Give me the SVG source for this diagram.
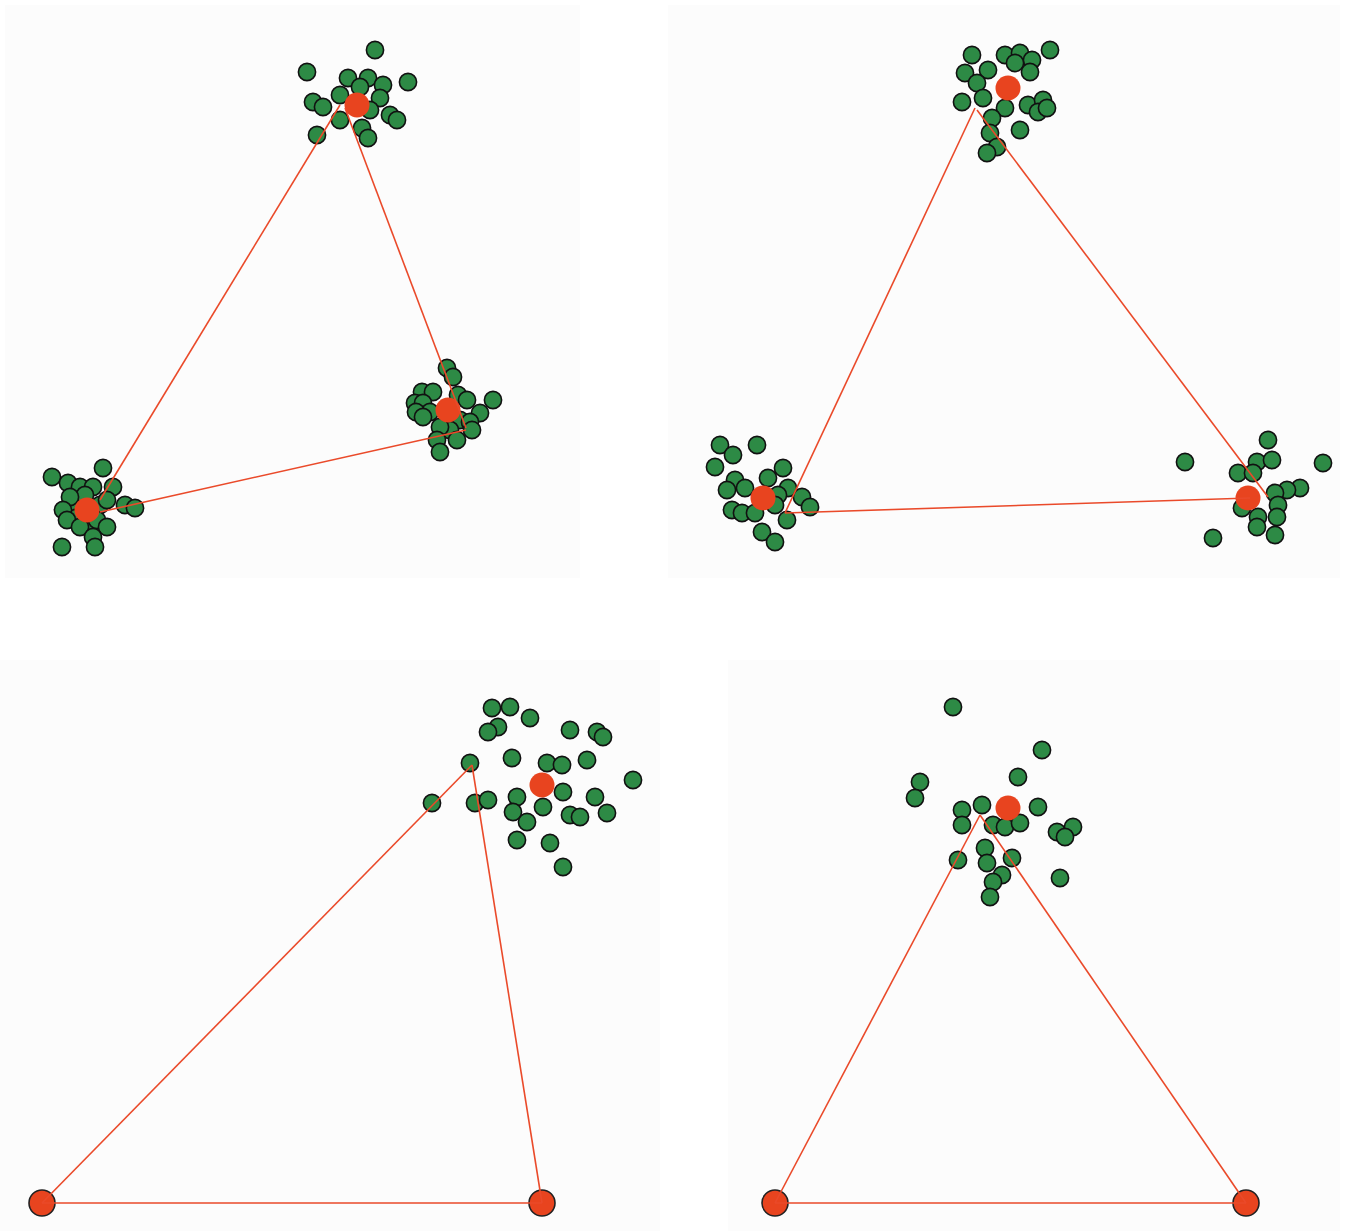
<svg xmlns="http://www.w3.org/2000/svg" width="1358" height="1231" viewBox="0 0 1358 1231">
<style>
.bg{fill:#fcfcfc}
.g{fill:#2d8a45;stroke:#111;stroke-width:1.6}
.c{fill:#e8441f;stroke:none}
.cb{fill:#e8441f;stroke:#222;stroke-width:1.6}
.ln{stroke:#ea4a2a;stroke-width:1.6;fill:none}
</style>
<defs>
<circle id="d" r="8.6" class="g"/>
</defs>
<rect width="1358" height="1231" fill="#ffffff"/>
<g id="panels">
<rect class="bg" x="5" y="5" width="575" height="573"/>
<rect class="bg" x="668" y="5" width="672" height="573"/>
<rect class="bg" x="0" y="660" width="660" height="571"/>
<rect class="bg" x="728" y="660" width="612" height="571"/>
</g>
<g id="cluster-p1-top">
<use href="#d" x="375" y="50"/><use href="#d" x="307" y="72"/><use href="#d" x="408" y="82"/>
<use href="#d" x="348" y="78"/><use href="#d" x="368" y="78"/><use href="#d" x="383" y="85"/>
<use href="#d" x="360" y="87"/><use href="#d" x="313" y="102"/><use href="#d" x="323" y="107"/>
<use href="#d" x="340" y="95"/><use href="#d" x="380" y="98"/><use href="#d" x="390" y="115"/>
<use href="#d" x="397" y="120"/><use href="#d" x="370" y="110"/><use href="#d" x="340" y="120"/>
<use href="#d" x="362" y="128"/><use href="#d" x="368" y="138"/><use href="#d" x="317" y="135"/>
<circle class="c" cx="357" cy="105" r="12.5"/>
</g>
<g id="cluster-p1-right">
<use href="#d" x="447" y="368"/><use href="#d" x="453" y="377"/><use href="#d" x="422" y="392"/>
<use href="#d" x="433" y="392"/><use href="#d" x="415" y="403"/><use href="#d" x="423" y="403"/>
<use href="#d" x="458" y="395"/><use href="#d" x="430" y="412"/><use href="#d" x="460" y="420"/>
<use href="#d" x="450" y="430"/><use href="#d" x="416" y="412"/>
<use href="#d" x="467" y="400"/><use href="#d" x="493" y="400"/><use href="#d" x="480" y="413"/>
<use href="#d" x="423" y="417"/><use href="#d" x="440" y="427"/><use href="#d" x="470" y="422"/>
<use href="#d" x="457" y="440"/><use href="#d" x="437" y="440"/><use href="#d" x="440" y="452"/>
<use href="#d" x="472" y="430"/>
<circle class="c" cx="448" cy="410" r="12.5"/>
</g>
<g id="cluster-p1-left">
<use href="#d" x="103" y="468"/><use href="#d" x="52" y="477"/><use href="#d" x="68" y="483"/>
<use href="#d" x="80" y="487"/><use href="#d" x="93" y="487"/><use href="#d" x="113" y="487"/>
<use href="#d" x="75" y="505"/><use href="#d" x="100" y="505"/><use href="#d" x="85" y="495"/>
<use href="#d" x="76" y="518"/><use href="#d" x="88" y="527"/>
<use href="#d" x="70" y="497"/><use href="#d" x="107" y="500"/><use href="#d" x="125" y="505"/>
<use href="#d" x="135" y="508"/><use href="#d" x="63" y="510"/><use href="#d" x="67" y="520"/>
<use href="#d" x="97" y="520"/><use href="#d" x="107" y="527"/><use href="#d" x="80" y="527"/>
<use href="#d" x="93" y="537"/><use href="#d" x="95" y="547"/><use href="#d" x="62" y="547"/>
<circle class="c" cx="87" cy="510" r="12.5"/>
</g>
<g id="cluster-p2-top">
<use href="#d" x="972" y="55"/><use href="#d" x="1005" y="55"/><use href="#d" x="1020" y="53"/>
<use href="#d" x="1050" y="50"/><use href="#d" x="1032" y="60"/><use href="#d" x="1015" y="63"/>
<use href="#d" x="965" y="73"/><use href="#d" x="988" y="70"/><use href="#d" x="977" y="83"/>
<use href="#d" x="1030" y="72"/><use href="#d" x="962" y="102"/><use href="#d" x="983" y="98"/>
<use href="#d" x="1005" y="108"/><use href="#d" x="1028" y="105"/><use href="#d" x="1043" y="100"/>
<use href="#d" x="1038" y="112"/><use href="#d" x="1047" y="108"/><use href="#d" x="992" y="118"/>
<use href="#d" x="1020" y="130"/><use href="#d" x="990" y="133"/><use href="#d" x="997" y="147"/>
<use href="#d" x="987" y="153"/>
<circle class="c" cx="1008" cy="88" r="12.5"/>
</g>
<g id="cluster-p2-left">
<use href="#d" x="720" y="445"/><use href="#d" x="757" y="445"/><use href="#d" x="733" y="455"/>
<use href="#d" x="715" y="467"/><use href="#d" x="783" y="468"/><use href="#d" x="735" y="480"/>
<use href="#d" x="768" y="478"/><use href="#d" x="727" y="490"/><use href="#d" x="745" y="488"/>
<use href="#d" x="788" y="488"/><use href="#d" x="778" y="495"/><use href="#d" x="802" y="497"/>
<use href="#d" x="732" y="510"/><use href="#d" x="742" y="513"/><use href="#d" x="755" y="513"/>
<use href="#d" x="775" y="505"/><use href="#d" x="810" y="507"/><use href="#d" x="787" y="520"/>
<use href="#d" x="762" y="532"/><use href="#d" x="775" y="542"/>
<circle class="c" cx="763" cy="498" r="12.5"/>
</g>
<g id="cluster-p2-right">
<use href="#d" x="1268" y="440"/><use href="#d" x="1185" y="462"/><use href="#d" x="1323" y="463"/>
<use href="#d" x="1257" y="462"/><use href="#d" x="1272" y="460"/><use href="#d" x="1238" y="473"/>
<use href="#d" x="1253" y="473"/><use href="#d" x="1300" y="488"/><use href="#d" x="1287" y="490"/>
<use href="#d" x="1275" y="493"/><use href="#d" x="1278" y="505"/><use href="#d" x="1242" y="508"/>
<use href="#d" x="1258" y="517"/><use href="#d" x="1277" y="517"/><use href="#d" x="1257" y="527"/>
<use href="#d" x="1275" y="535"/><use href="#d" x="1213" y="538"/>
<circle class="c" cx="1248" cy="498" r="12.5"/>
</g>
<g id="cluster-p3-top">
<use href="#d" x="492" y="708"/><use href="#d" x="510" y="707"/><use href="#d" x="530" y="718"/>
<use href="#d" x="498" y="727"/><use href="#d" x="488" y="732"/><use href="#d" x="570" y="730"/>
<use href="#d" x="597" y="732"/><use href="#d" x="603" y="737"/><use href="#d" x="512" y="758"/>
<use href="#d" x="547" y="763"/><use href="#d" x="562" y="765"/><use href="#d" x="587" y="760"/>
<use href="#d" x="470" y="763"/><use href="#d" x="633" y="780"/><use href="#d" x="432" y="803"/>
<use href="#d" x="475" y="803"/><use href="#d" x="488" y="800"/><use href="#d" x="517" y="797"/>
<use href="#d" x="563" y="792"/><use href="#d" x="595" y="797"/><use href="#d" x="513" y="812"/>
<use href="#d" x="543" y="807"/><use href="#d" x="570" y="815"/><use href="#d" x="580" y="817"/>
<use href="#d" x="607" y="813"/><use href="#d" x="527" y="822"/><use href="#d" x="517" y="840"/>
<use href="#d" x="550" y="843"/><use href="#d" x="563" y="867"/>
<circle class="c" cx="542" cy="785" r="12.5"/>
</g>
<g id="cluster-p4-top">
<use href="#d" x="953" y="707"/><use href="#d" x="1042" y="750"/><use href="#d" x="1018" y="777"/>
<use href="#d" x="920" y="782"/><use href="#d" x="915" y="798"/><use href="#d" x="962" y="810"/>
<use href="#d" x="982" y="805"/><use href="#d" x="1038" y="807"/><use href="#d" x="962" y="825"/>
<use href="#d" x="993" y="825"/><use href="#d" x="1005" y="827"/><use href="#d" x="1020" y="823"/>
<use href="#d" x="1057" y="832"/><use href="#d" x="1073" y="827"/><use href="#d" x="1065" y="837"/>
<use href="#d" x="985" y="848"/><use href="#d" x="958" y="860"/><use href="#d" x="1012" y="858"/>
<use href="#d" x="987" y="863"/><use href="#d" x="1002" y="875"/><use href="#d" x="993" y="882"/>
<use href="#d" x="1060" y="878"/><use href="#d" x="990" y="897"/>
<circle class="c" cx="1008" cy="808" r="12.5"/>
</g>
<g id="node-p3-left"><circle class="cb" cx="42" cy="1203" r="13"/></g>
<g id="node-p3-right"><circle class="cb" cx="542" cy="1203" r="13"/></g>
<g id="node-p4-left"><circle class="cb" cx="775" cy="1203" r="13"/></g>
<g id="node-p4-right"><circle class="cb" cx="1246" cy="1203" r="13"/></g>
<g id="connectors" class="ln">
<line x1="100" y1="500" x2="340" y2="105"/>
<line x1="345" y1="108" x2="466" y2="428"/>
<line x1="100" y1="512" x2="466" y2="430"/>
<line x1="785" y1="513" x2="975" y2="108"/>
<line x1="977" y1="110" x2="1268" y2="497"/>
<line x1="785" y1="513" x2="1250" y2="498"/>
<line x1="42" y1="1203" x2="472" y2="765"/>
<line x1="472" y1="765" x2="542" y2="1203"/>
<line x1="42" y1="1203" x2="542" y2="1203"/>
<line x1="775" y1="1203" x2="980" y2="815"/>
<line x1="980" y1="815" x2="1246" y2="1203"/>
<line x1="775" y1="1203" x2="1246" y2="1203"/>
</g>
</svg>
